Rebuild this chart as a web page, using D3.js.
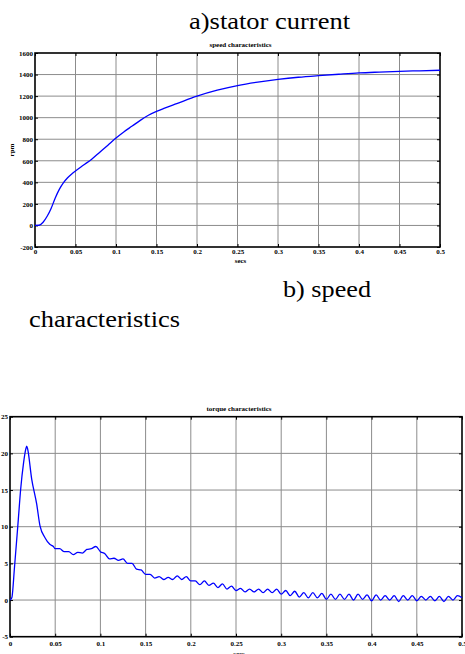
<!DOCTYPE html>
<html>
<head>
<meta charset="utf-8">
<script src="https://cdn.jsdelivr.net/npm/d3@7"></script>
<style>
  body { margin: 0; background: #fff; }
  svg { display: block; }
</style>
</head>
<body>
<div id="page"></div>
<script>
(function() {

    var width = 465;
    var height = 654;
    var serif = "'Liberation Serif', 'Times New Roman', Times, 'DejaVu Serif', serif";

    // speed curve, [secs, rpm]
    var speedData = [
        [0, 0], [0.005, 2], [0.01, 30], [0.015, 85], [0.02, 160], [0.025, 255],
        [0.03, 335], [0.035, 395], [0.04, 440], [0.045, 475], [0.05, 505],
        [0.06, 560], [0.07, 615], [0.08, 680], [0.09, 745], [0.1, 811],
        [0.11, 870], [0.12, 922], [0.13, 975], [0.14, 1022], [0.15, 1058],
        [0.16, 1088], [0.175, 1130], [0.2, 1200], [0.225, 1255], [0.25, 1298],
        [0.275, 1330], [0.3, 1355], [0.325, 1375], [0.35, 1390], [0.375, 1403],
        [0.4, 1415], [0.425, 1423], [0.45, 1430], [0.475, 1435], [0.5, 1440]
    ];

    // torque curve, [secs, value]
    var torqueData = [
        [0, 0], [0.002, 0.3], [0.005, 4.5], [0.0092, 11], [0.0118, 15.1], [0.015, 18.7],
        [0.0175, 20.6], [0.0185, 21], [0.0195, 20.6], [0.024, 16.5], [0.0295, 13.1],
        [0.0332, 10.1], [0.0387, 8.5], [0.044, 7.6], [0.048, 7.3], [0.05, 7.0],
        [0.055, 7.0], [0.06, 6.6], [0.065, 6.6], [0.07, 6.2], [0.075, 6.5], [0.08, 6.4],
        [0.085, 6.9], [0.09, 7.0], [0.095, 7.3], [0.1, 6.6], [0.105, 6.3], [0.11, 5.6],
        [0.115, 5.7], [0.12, 5.4], [0.125, 5.6], [0.13, 5.0], [0.135, 5.0], [0.14, 4.2],
        [0.145, 4.1], [0.15, 3.5], [0.155, 3.5], [0.16, 3.0], [0.165, 3.2], [0.17, 2.8],
        [0.175, 3.1], [0.18, 2.8], [0.185, 3.3], [0.19, 2.8], [0.195, 3.2], [0.2, 2.6],
        [0.205, 2.6], [0.21, 2.1], [0.215, 2.6], [0.22, 2.0], [0.225, 2.3], [0.23, 1.7],
        [0.235, 2.2], [0.24, 1.5], [0.245, 1.9], [0.25, 1.3], [0.255, 1.6], [0.26, 1.1],
        [0.265, 1.5], [0.27, 1.1], [0.275, 1.5], [0.28, 1.0], [0.285, 1.5], [0.29, 1.0],
        [0.295, 1.5], [0.3, 0.8], [0.305, 1.3], [0.31, 0.6], [0.315, 1.2], [0.32, 0.4],
        [0.325, 1.0], [0.33, 0.3], [0.335, 1.0], [0.34, 0.3], [0.345, 0.9], [0.35, 0.1],
        [0.355, 0.8], [0.36, 0.1], [0.365, 0.8], [0.37, 0.1], [0.375, 0.8], [0.38, 0.0],
        [0.385, 0.8], [0.39, 0.1], [0.395, 0.7], [0.4, -0.1], [0.405, 0.7], [0.41, 0.0],
        [0.415, 0.6], [0.42, 0.0], [0.425, 0.6], [0.43, -0.2], [0.435, 0.6], [0.44, 0.0],
        [0.445, 0.6], [0.45, -0.1], [0.455, 0.5], [0.46, 0.0], [0.465, 0.5], [0.47, -0.1],
        [0.475, 0.5], [0.48, -0.2], [0.485, 0.5], [0.49, 0.0], [0.495, 0.6], [0.5, 0.3]
    ];

    var xTicks = [0, 0.05, 0.1, 0.15, 0.2, 0.25, 0.3, 0.35, 0.4, 0.45, 0.5];
    var speedTicks = [-200, 0, 200, 400, 600, 800, 1000, 1200, 1400, 1600];
    var torqueTicks = [-5, 0, 5, 10, 15, 20, 25];

    var svg = d3.select("#page")
        .append("svg")
        .attr("width", width)
        .attr("height", height);

    // loose caption text from the page around the figures
    function caption(txt, x, y, len) {
        svg.append("text")
            .attr("x", x).attr("y", y)
            .attr("textLength", len)
            .attr("lengthAdjust", "spacingAndGlyphs")
            .style("font-family", serif)
            .style("font-size", "23px")
            .style("fill", "#000")
            .text(txt);
    }
    caption("a)stator current", 189, 29, 161);
    caption("b) speed", 283, 297, 88);
    caption("characteristics", 29, 327, 151);

    drawPlot({
        left: 35, right: 440, top: 53, bottom: 247,
        yDomain: [-200, 1600], yTicks: speedTicks,
        data: speedData, title: "speed characteristics", ylabel: "rpm",
        curve: d3.curveMonotoneX, pad: 2, secsY: 16
    });

    drawPlot({
        left: 10, right: 462, top: 416.7, bottom: 636.7,
        yDomain: [-5, 25], yTicks: torqueTicks,
        data: torqueData, title: "torque characteristics", ylabel: null,
        curve: d3.curveMonotoneX, pad: 4, secsY: 19
    });

    function drawPlot(p) {
        var x = d3.scaleLinear().domain([0, 0.5]).range([p.left, p.right]);
        var y = d3.scaleLinear().domain(p.yDomain).range([p.bottom, p.top]);
        var g = svg.append("g");

        // grid
        g.selectAll(".vg").data(xTicks.slice(1, -1)).enter().append("line")
            .attr("x1", d => x(d)).attr("x2", d => x(d))
            .attr("y1", p.top).attr("y2", p.bottom)
            .attr("stroke", "#8c8c8c").attr("stroke-width", 1);
        g.selectAll(".hg").data(p.yTicks.slice(1, -1)).enter().append("line")
            .attr("y1", d => y(d)).attr("y2", d => y(d))
            .attr("x1", p.left).attr("x2", p.right)
            .attr("stroke", "#8c8c8c").attr("stroke-width", 1);

        // axes
        var xAxis = d3.axisBottom(x).tickValues(xTicks).tickSize(-3).tickPadding(p.pad)
            .tickFormat(d => String(d));
        var gx = g.append("g").attr("transform", "translate(0," + p.bottom + ")").call(xAxis);
        var yAxis = d3.axisLeft(y).tickValues(p.yTicks).tickSize(-3).tickPadding(2)
            .tickFormat(d => String(d));
        var gy = g.append("g").attr("transform", "translate(" + p.left + ",0)").call(yAxis);
        var xTop = d3.axisTop(x).tickValues(xTicks).tickSize(-3).tickFormat("");
        var gxt = g.append("g").attr("transform", "translate(0," + p.top + ")").call(xTop);
        var yRight = d3.axisRight(y).tickValues(p.yTicks).tickSize(-3).tickFormat("");
        var gyr = g.append("g").attr("transform", "translate(" + p.right + ",0)").call(yRight);
        [gx, gy, gxt, gyr].forEach(function(a) {
            a.select(".domain").remove();
            a.selectAll(".tick line").attr("stroke", "#000").attr("stroke-width", 1);
            a.selectAll(".tick text")
                .style("font-family", serif).style("font-weight", "bold")
                .style("font-size", "7px").style("fill", "#000");
        });

        g.append("rect")
            .attr("x", p.left).attr("y", p.top)
            .attr("width", p.right - p.left).attr("height", p.bottom - p.top)
            .attr("fill", "none").attr("stroke", "#000").attr("stroke-width", 1.6);

        // curve
        var line = d3.line().x(d => x(d[0])).y(d => y(d[1])).curve(p.curve);
        g.append("path").datum(p.data)
            .attr("d", line)
            .attr("fill", "none")
            .attr("stroke", "#0000ff")
            .attr("stroke-width", 1.3);

        // labels
        function label(txt) {
            return g.append("text")
                .attr("text-anchor", "middle")
                .style("font-family", serif).style("font-weight", "bold")
                .style("font-size", "7px").style("fill", "#000")
                .text(txt);
        }
        label(p.title).attr("x", (p.left + p.right) / 2 + 3).attr("y", p.top - 6);
        label("secs").attr("x", (p.left + p.right) / 2 + 3).attr("y", p.bottom + p.secsY);
        if (p.ylabel) {
            label(p.ylabel)
                .attr("transform", "translate(14," + (p.top + p.bottom) / 2 + ") rotate(-90)");
        }
    }

})();
</script>
</body>
</html>
